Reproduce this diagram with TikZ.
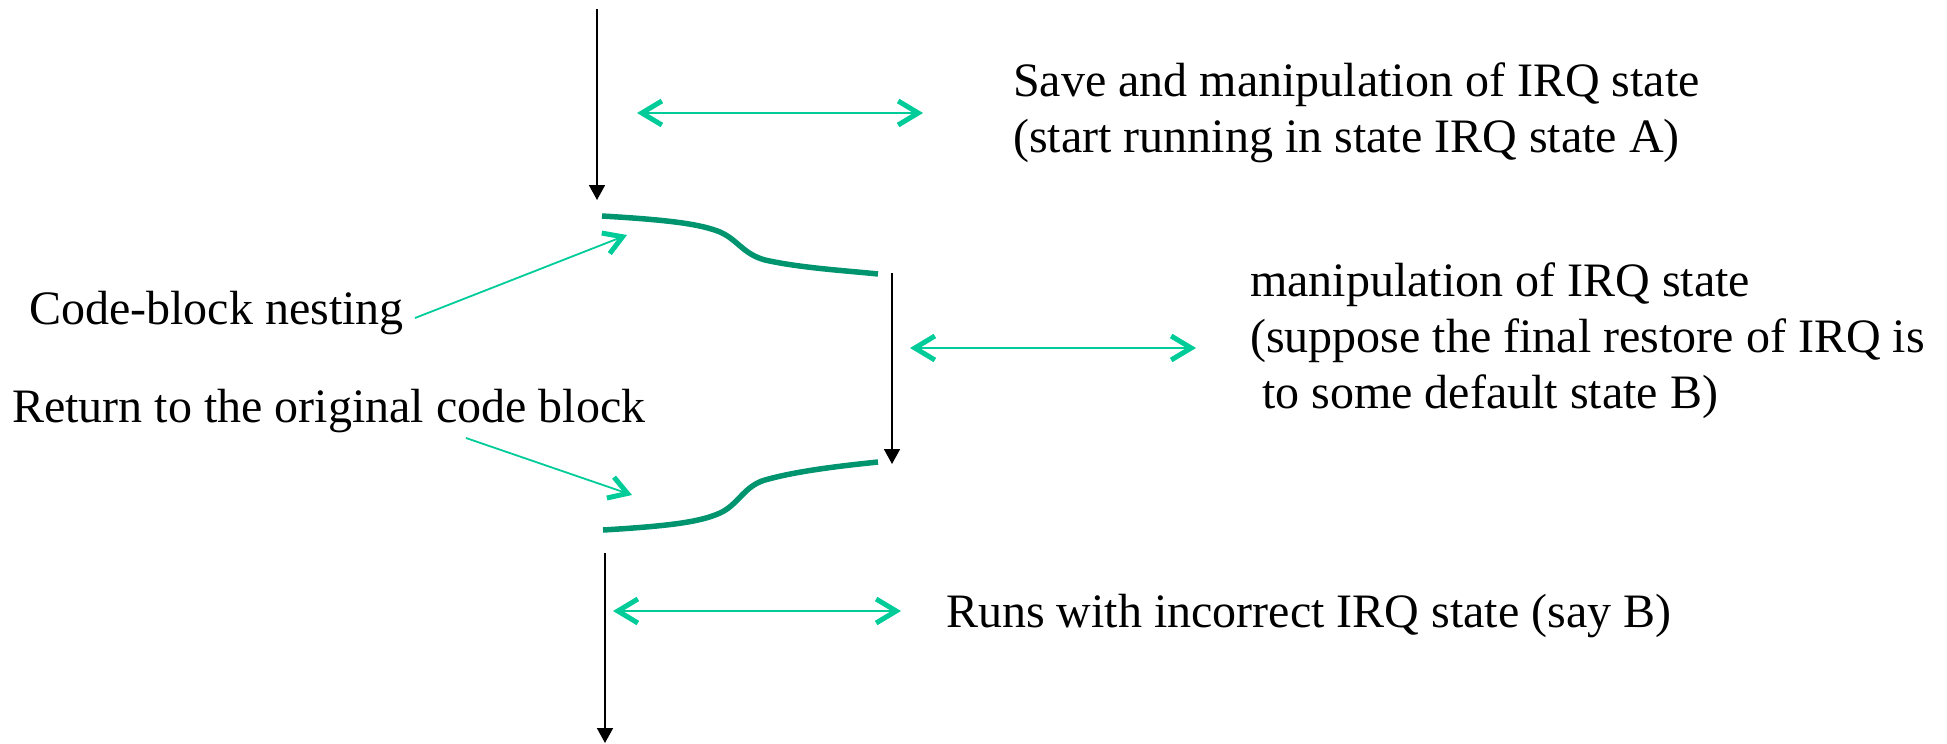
\documentclass[tikz,border=0pt]{standalone}
\usepackage{fontspec}
\setmainfont{Liberation Serif}
\usepackage{tikz}
\usetikzlibrary{arrows.meta}

\definecolor{spangreen}{HTML}{00CC99}
\definecolor{blockgreen}{HTML}{00956F}

\begin{document}
\begin{tikzpicture}[x=1pt, y=-1pt,
    note/.style={inner sep=0pt, anchor=base west, align=left, font=\fontsize{48}{56}\selectfont},
    flow/.style={black, line width=1.8pt, -{Triangle[length=15pt, width=16pt]}},
    span/.style={spangreen, line width=2.2pt, >={Straight Barb[length=20pt, width=24pt, line width=5pt]}, <->},
    pointer/.style={spangreen, line width=1.8pt, -{Straight Barb[length=18pt, width=22pt, line width=5pt]}},
    block/.style={blockgreen, line width=5.5pt}]
            \useasboundingbox (0,0) rectangle (1947,744);

            % Flow of control
            \coordinate (F1a) at (597, 9);
            \coordinate (F1b) at (597, 200);
            \coordinate (F2a) at (892, 273);
            \coordinate (F2b) at (892, 464);
            \coordinate (F3a) at (605, 553);
            \coordinate (F3b) at (605, 743);
            \draw[flow] (F1a) -- (F1b);
            \draw[flow] (F2a) -- (F2b);
            \draw[flow] (F3a) -- (F3b);

            % Code blocks
            \coordinate (N1) at (602, 216); % enter nested block
            \coordinate (N2) at (878, 274);
            \coordinate (R1) at (878, 462); % leave nested block
            \coordinate (R2) at (603, 530);
            \draw[block] (N1) .. controls (670, 220) and (700, 224) .. (720, 232)
                .. controls (738, 240) and (743, 254) .. (765, 260)
                .. controls (800, 268) and (850, 271) .. (N2);
            \draw[block] (R1) .. controls (850, 465) and (800, 470) .. (765, 480)
                .. controls (744, 486) and (738, 505) .. (720, 513)
                .. controls (700, 522) and (670, 526) .. (R2);

            % Ranges of IRQ state
            \coordinate (S1a) at (637, 113);
            \coordinate (S1b) at (923, 113);
            \coordinate (S2a) at (910, 348);
            \coordinate (S2b) at (1196, 348);
            \coordinate (S3a) at (613, 611);
            \coordinate (S3b) at (901, 611);
            \draw[span] (S1a) -- (S1b);
            \draw[span] (S2a) -- (S2b);
            \draw[span] (S3a) -- (S3b);

            % Labels (base = last line)
            \node[note] (save) at (1013, 152) {Save and manipulation of IRQ state\\(start running in state IRQ state A)};
            \node[note] (manip) at (1250, 408) {manipulation of IRQ state\\(suppose the final restore of IRQ is\\\ to some default state B)};
            \node[note] (runs) at (946, 627) {Runs with incorrect IRQ state (say B)};
            \node[note] (nest) at (29, 324) {Code-block nesting};
            \node[note] (ret) at (12, 422) {Return to the original code block};

            % Pointers
            \coordinate (P1a) at (415, 318);
            \coordinate (P1b) at (627, 235);
            \coordinate (P2a) at (466, 438);
            \coordinate (P2b) at (632, 495);
            \draw[pointer] (P1a) -- (P1b);
            \draw[pointer] (P2a) -- (P2b);
\end{tikzpicture}
\end{document}
